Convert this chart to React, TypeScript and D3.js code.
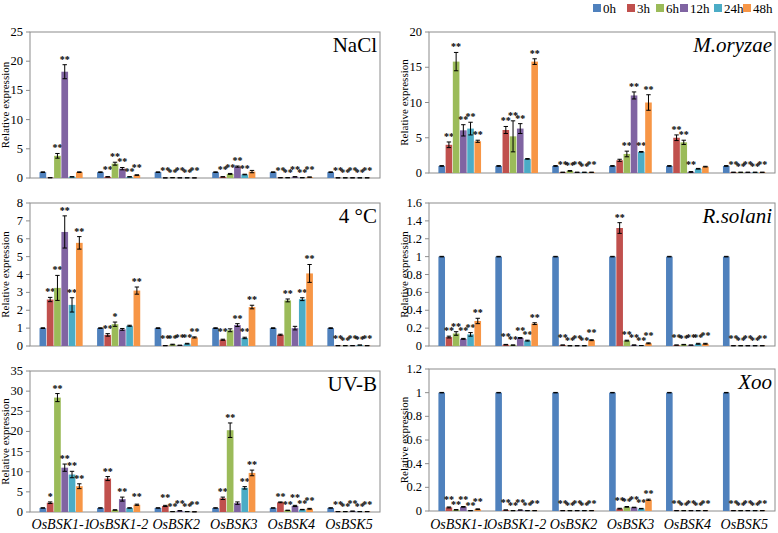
import * as d3 from 'd3';

const genes = ['OsBSK1-1', 'OsBSK1-2', 'OsBSK2', 'OsBSK3', 'OsBSK4', 'OsBSK5'];
const times = ['0h', '3h', '6h', '12h', '24h', '48h'];
const colors = ['#4F81BD', '#C0504D', '#9BBB59', '#8064A2', '#4BACC6', '#F79646'];

// values[gene][time]
const naclMean = [
  [1.0, 0.05, 3.8, 18.2, 0.2, 1.0],
  [1.0, 0.2, 2.45, 1.6, 0.2, 0.5],
  [1.0, 0.02, 0.05, 0.03, 0.03, 0.02],
  [1.0, 0.2, 0.7, 1.95, 0.6, 1.1],
  [1.0, 0.05, 0.05, 0.2, 0.05, 0.15],
  [1.0, 0.03, 0.03, 0.03, 0.03, 0.03],
];
const naclErr = [
  [0.05, 0.02, 0.4, 1.2, 0.03, 0.05],
  [0.05, 0.03, 0.25, 0.2, 0.03, 0.05],
  [0.05, 0, 0, 0, 0, 0],
  [0.05, 0.03, 0.08, 0.1, 0.05, 0.2],
  [0.05, 0, 0, 0.03, 0, 0.02],
  [0.05, 0, 0, 0, 0, 0],
];
const naclStars = [
  [0, 0, 2, 2, 0, 0],
  [0, 2, 2, 2, 2, 2],
  [0, 2, 2, 2, 2, 2],
  [0, 2, 2, 2, 2, 0],
  [0, 2, 2, 2, 2, 2],
  [0, 2, 2, 2, 2, 2],
];

const oryzaeMean = [
  [1.0, 4.0, 15.8, 6.05, 6.3, 4.5],
  [1.0, 6.1, 5.2, 6.3, 2.0, 15.8],
  [1.0, 0.1, 0.3, 0.1, 0.1, 0.1],
  [1.0, 1.8, 2.7, 11.0, 3.0, 10.0],
  [1.0, 5.0, 4.35, 0.15, 0.6, 0.9],
  [1.0, 0.1, 0.1, 0.1, 0.1, 0.1],
];
const oryzaeErr = [
  [0.05, 0.4, 1.3, 0.8, 0.9, 0.15],
  [0.05, 0.5, 2.2, 0.7, 0.05, 0.4],
  [0.05, 0, 0.05, 0, 0, 0],
  [0.05, 0.15, 0.4, 0.5, 0.05, 1.1],
  [0.05, 0.4, 0.3, 0.05, 0.05, 0.05],
  [0.05, 0, 0, 0, 0, 0],
];
const oryzaeStars = [
  [0, 2, 2, 2, 2, 2],
  [0, 2, 2, 2, 0, 2],
  [0, 2, 2, 2, 2, 2],
  [0, 0, 2, 2, 2, 2],
  [0, 2, 2, 2, 0, 0],
  [0, 2, 2, 2, 2, 2],
];

const coldMean = [
  [1.0, 2.6, 3.25, 6.38, 2.3, 5.77],
  [1.0, 0.62, 1.22, 0.93, 1.13, 3.1],
  [1.0, 0.02, 0.08, 0.04, 0.13, 0.48],
  [1.0, 0.35, 0.88, 1.17, 0.45, 2.18],
  [1.0, 0.63, 2.55, 1.0, 2.62, 4.06],
  [1.0, 0.02, 0.02, 0.02, 0.05, 0.02],
];
const coldErr = [
  [0.02, 0.12, 0.7, 0.9, 0.4, 0.35],
  [0.02, 0.07, 0.12, 0.05, 0.03, 0.2],
  [0.02, 0, 0.02, 0, 0.02, 0.03],
  [0.02, 0.03, 0.08, 0.08, 0.04, 0.1],
  [0.02, 0.03, 0.08, 0.1, 0.08, 0.5],
  [0.02, 0, 0, 0, 0, 0],
];
const coldStars = [
  [0, 2, 2, 2, 2, 2],
  [0, 2, 1, 0, 0, 2],
  [0, 2, 2, 2, 2, 2],
  [0, 2, 0, 2, 2, 2],
  [0, 0, 2, 0, 2, 2],
  [0, 2, 2, 2, 2, 2],
];

const solaniMean = [
  [1.0, 0.1, 0.14, 0.08, 0.13, 0.28],
  [1.0, 0.015, 0.01, 0.09, 0.06, 0.25],
  [1.0, 0.01, 0.003, 0.003, 0.003, 0.065],
  [1.0, 1.32, 0.06, 0.01, 0.005, 0.03],
  [1.0, 0.01, 0.015, 0.01, 0.025, 0.025],
  [1.0, 0.003, 0.003, 0.003, 0.003, 0.003],
];
const solaniErr = [
  [0.003, 0.01, 0.02, 0.005, 0.02, 0.03],
  [0.003, 0.003, 0.002, 0.005, 0.005, 0.01],
  [0.003, 0, 0, 0, 0, 0.005],
  [0.003, 0.06, 0.005, 0.002, 0, 0.005],
  [0.003, 0, 0.003, 0, 0.005, 0.005],
  [0.003, 0, 0, 0, 0, 0],
];
const solaniStars = [
  [0, 2, 2, 2, 2, 2],
  [0, 2, 2, 2, 2, 2],
  [0, 2, 2, 2, 2, 2],
  [0, 2, 2, 2, 2, 2],
  [0, 2, 2, 2, 2, 2],
  [0, 2, 2, 2, 2, 2],
];

const uvbMean = [
  [1.0, 2.3, 28.4, 11.0, 9.3, 6.4],
  [1.0, 8.3, 0.5, 3.2, 1.0, 1.8],
  [1.0, 1.5, 0.1, 0.3, 0.1, 0.05],
  [1.0, 3.4, 20.3, 2.2, 6.0, 9.7],
  [1.0, 2.4, 0.4, 1.5, 0.6, 0.8],
  [1.0, 0.1, 0.1, 0.2, 0.1, 0.1],
];
const uvbErr = [
  [0.05, 0.2, 1.0, 0.9, 0.8, 0.6],
  [0.05, 0.5, 0.05, 0.5, 0.05, 0.15],
  [0.05, 0.15, 0, 0.05, 0, 0],
  [0.05, 0.3, 1.8, 0.3, 0.3, 0.7],
  [0.05, 0.1, 0.05, 0.15, 0.05, 0.1],
  [0.05, 0, 0, 0.03, 0, 0],
];
const uvbStars = [
  [0, 1, 2, 2, 2, 2],
  [0, 2, 0, 2, 0, 2],
  [0, 2, 2, 2, 2, 2],
  [0, 2, 2, 0, 2, 2],
  [0, 2, 2, 2, 2, 2],
  [0, 2, 2, 2, 2, 2],
];

const xooMean = [
  [1.0, 0.03, 0.01, 0.035, 0.003, 0.015],
  [1.0, 0.008, 0.003, 0.008, 0.003, 0.003],
  [1.0, 0.003, 0.003, 0.003, 0.003, 0.003],
  [1.0, 0.02, 0.035, 0.03, 0.02, 0.095],
  [1.0, 0.003, 0.003, 0.003, 0.003, 0.003],
  [1.0, 0.003, 0.003, 0.003, 0.003, 0.003],
];
const xooErr = [
  [0.002, 0.004, 0.002, 0.003, 0, 0.003],
  [0.002, 0, 0, 0, 0, 0],
  [0.002, 0, 0, 0, 0, 0],
  [0.002, 0.003, 0.003, 0.002, 0.002, 0.005],
  [0.002, 0, 0, 0, 0, 0],
  [0.002, 0, 0, 0, 0, 0],
];
const xooStars = [
  [0, 2, 2, 2, 2, 2],
  [0, 2, 2, 2, 2, 2],
  [0, 2, 2, 2, 2, 2],
  [0, 2, 2, 2, 2, 2],
  [0, 2, 2, 2, 2, 2],
  [0, 2, 2, 2, 2, 2],
];

const panels = [
  { title: 'NaCl', italic: false, yMax: 25, step: 5, x0: 30, x1: 380, y0: 32, y1: 178, mean: naclMean, err: naclErr, stars: naclStars, labels: false },
  { title: 'M.oryzae', italic: true, yMax: 20, step: 5, x0: 429, x1: 775, y0: 32, y1: 173, mean: oryzaeMean, err: oryzaeErr, stars: oryzaeStars, labels: false },
  { title: '4 °C', italic: false, yMax: 8, step: 1, x0: 30, x1: 380, y0: 203, y1: 346, mean: coldMean, err: coldErr, stars: coldStars, labels: false },
  { title: 'R.solani', italic: true, yMax: 1.6, step: 0.2, x0: 429, x1: 775, y0: 203, y1: 346, mean: solaniMean, err: solaniErr, stars: solaniStars, labels: false },
  { title: 'UV-B', italic: false, yMax: 35, step: 5, x0: 30, x1: 380, y0: 371, y1: 512, mean: uvbMean, err: uvbErr, stars: uvbStars, labels: true },
  { title: 'Xoo', italic: true, yMax: 1.2, step: 0.2, x0: 429, x1: 775, y0: 369, y1: 511, mean: xooMean, err: xooErr, stars: xooStars, labels: true },
];

const legendX = [593, 627, 656, 680, 714, 743];
const FONT = 'Liberation Serif';
const AXIS = '#8c8c8c';

type Panel = typeof panels[number];

function BarPanel({ p }: { p: Panel }) {
  const x = d3.scaleBand<string>().domain(genes).range([p.x0, p.x1]).paddingInner(0.24).paddingOuter(0.16);
  const xt = d3.scaleBand<string>().domain(times).range([0, x.bandwidth()]);
  const y = d3.scaleLinear().domain([0, p.yMax]).range([p.y1, p.y0]);
  const ticks = d3.range(0, p.yMax + p.step / 2, p.step);
  const bw = xt.bandwidth();

  return (
    <g>
      <rect x={p.x0} y={p.y0} width={p.x1 - p.x0} height={p.y1 - p.y0} fill="none" stroke={AXIS} />
      {ticks.map(t => (
        <g key={t} transform={`translate(${p.x0},${y(t)})`}>
          <line x1={-4} x2={0} stroke={AXIS} />
          <text x={-7} dy="0.32em" textAnchor="end" fontFamily={FONT} fontSize={12.5}>{String(+t.toFixed(1))}</text>
        </g>
      ))}
      <text
        transform={`translate(${p.x0 - 21},${(p.y0 + p.y1) / 2}) rotate(-90)`}
        textAnchor="middle"
        fontFamily={FONT}
        fontSize={11}
      >Relative expression</text>
      <text x={p.x1 - 3} y={p.y0 + 20} textAnchor="end" fontFamily={FONT} fontSize={21} fontStyle={p.italic ? 'italic' : 'normal'}>
        {p.title}
      </text>
      {genes.map((gene, gi) => (
        <g key={gene} transform={`translate(${x(gene)},0)`}>
          {times.map((t, ti) => {
            const v = p.mean[gi][ti];
            const e = p.err[gi][ti];
            const bx = xt(t)!;
            const cx = bx + bw / 2;
            const s = p.stars[gi][ti];
            const low = v + e < p.yMax * 0.06;
            return (
              <g key={t}>
                <rect x={bx + 0.3} y={y(v)} width={bw - 0.6} height={y(0) - y(v)} fill={colors[ti]} />
                <line x1={cx} x2={cx} y1={y(v - e)} y2={y(v + e)} stroke="#000" />
                <line x1={cx - 2.2} x2={cx + 2.2} y1={y(v - e)} y2={y(v - e)} stroke="#000" />
                <line x1={cx - 2.2} x2={cx + 2.2} y1={y(v + e)} y2={y(v + e)} stroke="#000" />
                {s > 0 && (
                  <text
                    x={cx}
                    y={y(v + e) - 2 - (low && ti % 2 === 1 ? 2 : 0)}
                    textAnchor="middle"
                    fontFamily={FONT}
                    fontSize={10}
                    fontWeight="bold"
                  >{s === 2 ? '**' : '*'}</text>
                )}
              </g>
            );
          })}
        </g>
      ))}
      {p.labels && genes.map(gene => (
        <text key={gene} x={x(gene)! + x.bandwidth() / 2} y={529} textAnchor="middle" fontFamily={FONT} fontSize={14} fontStyle="italic">
          {gene}
        </text>
      ))}
    </g>
  );
}

export default function App() {
  return (
    <svg width={778} height={533} style={{ position: 'absolute', left: 0, top: 0, background: '#fff' }}>
      {panels.map(p => <BarPanel key={p.title} p={p} />)}
      {times.map((t, i) => (
        <g key={t}>
          <rect x={legendX[i]} y={4} width={8} height={8} fill={colors[i]} />
          <text x={legendX[i] + 10} y={13} fontFamily={FONT} fontSize={13}>{t}</text>
        </g>
      ))}
    </svg>
  );
}
